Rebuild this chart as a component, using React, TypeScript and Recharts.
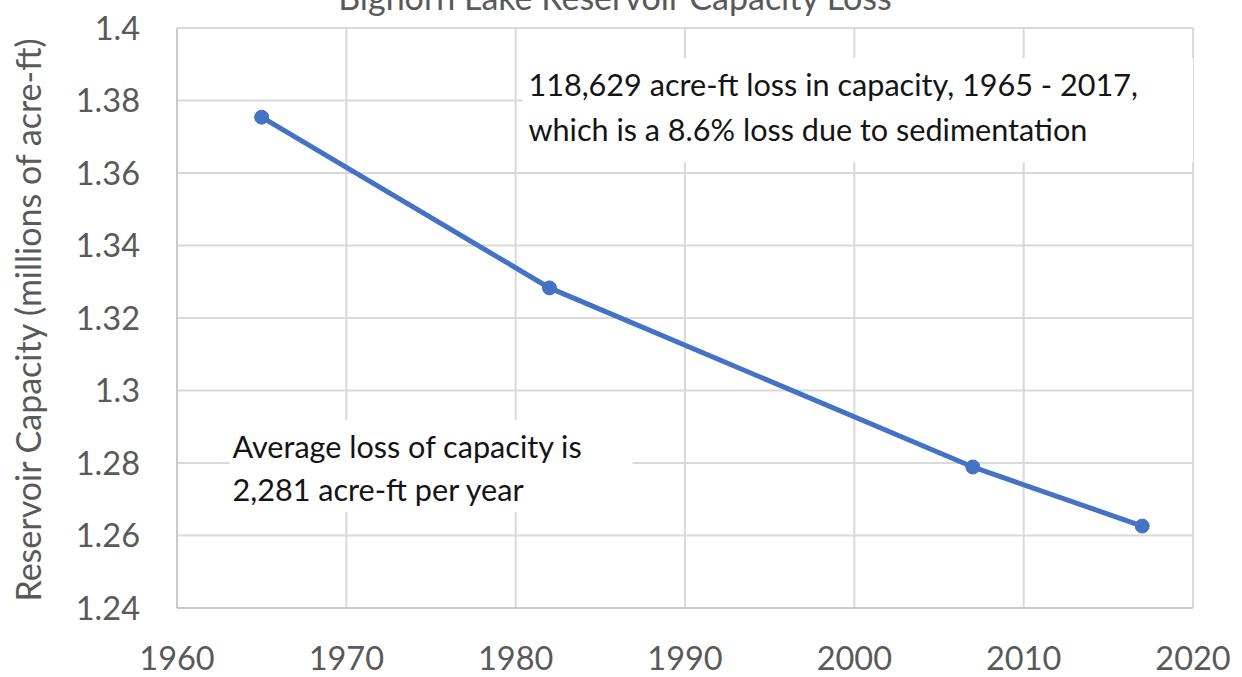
import React from "react";
import {
  LineChart,
  Line,
  XAxis,
  YAxis,
  CartesianGrid,
  ReferenceArea,
} from "recharts";

const years = [1965, 1982, 2007, 2017];
const capacity = [1.3754, 1.3283, 1.2789, 1.2626];

const xTicks = [1960, 1970, 1980, 1990, 2000, 2010, 2020];
const yTicks = [1.24, 1.26, 1.28, 1.3, 1.32, 1.34, 1.36, 1.38, 1.4];

const title = "Bighorn Lake Reservoir Capacity Loss";
const yLabel = "Reservoir Capacity (millions of acre-ft)";

const noteLoss = [
  "118,629 acre-ft loss in capacity, 1965 - 2017,",
  "which is a 8.6% loss due to sedimentation",
];
const noteAverage = ["Average loss of capacity is", "2,281 acre-ft per year"];

const data = years.map((year, i) => ({ year, capacity: capacity[i] }));

const FONT = "Lato, 'Open Sans', sans-serif";
const GRAY = "#595959";

// two-line text box drawn at the top-left corner of a reference area
const noteContent = (lines: string[], padX: number, firstLine: number, lineGap: number) =>
  (props: any) => {
    const vb = props.viewBox || {};
    return (
      <text
        x={vb.x + padX}
        y={vb.y + firstLine}
        fill="#141414"
        fontSize={30.6}
        fontFamily={FONT}
      >
        {lines.map((l, i) => (
          <tspan key={i} x={vb.x + padX} dy={i === 0 ? 0 : lineGap}>
            {l}
          </tspan>
        ))}
      </text>
    );
  };

const YTitle = (props: any) => {
  const vb = props.viewBox || {};
  const cx = vb.x + 27;
  const cy = vb.y + vb.height / 2 + 2;
  return (
    <text
      x={cx}
      y={cy}
      transform={`rotate(-90, ${cx}, ${cy})`}
      textAnchor="middle"
      dominantBaseline="central"
      fill={GRAY}
      fontSize={34}
      fontFamily={FONT}
    >
      {yLabel}
    </text>
  );
};

export default function App() {
  return (
    <div
      style={{
        position: "absolute",
        left: 0,
        top: 0,
        width: 1242,
        height: 677,
        background: "#fff",
      }}
    >
      <LineChart
        width={1242}
        height={677}
        data={data}
        margin={{ top: 28, right: 49, left: 0, bottom: 0 }}
      >
        {/* title sits mostly above the frame, as in the cropped original */}
        <text
          x={615}
          y={10}
          textAnchor="middle"
          fill={GRAY}
          fontSize={34}
          fontFamily={FONT}
        >
          {title}
        </text>
        <CartesianGrid stroke="#d9d9d9" strokeWidth={2} />
        <XAxis
          dataKey="year"
          type="number"
          domain={[1960, 2020]}
          ticks={xTicks}
          height={69}
          tickSize={0}
          tickMargin={39}
          axisLine={{ stroke: "#c9c9c9", strokeWidth: 2 }}
          tick={{ fill: GRAY, fontSize: 32.5, fontFamily: FONT }}
        />
        <YAxis
          type="number"
          domain={[1.24, 1.4]}
          ticks={yTicks}
          width={177}
          tickSize={0}
          tickMargin={37}
          axisLine={{ stroke: "#c9c9c9", strokeWidth: 2 }}
          tick={{ fill: GRAY, fontSize: 32.5, fontFamily: FONT }}
          tickFormatter={(v: number) => String(Number(v.toFixed(2)))}
          label={<YTitle />}
        />
        <ReferenceArea
          x1={1980.4}
          x2={2020}
          y1={1.363}
          y2={1.3917}
          fill="#ffffff"
          fillOpacity={1}
          stroke="none"
          label={noteContent(noteLoss, 6, 38, 45)}
        />
        <ReferenceArea
          x1={1963.1}
          x2={1986.9}
          y1={1.2665}
          y2={1.2919}
          fill="#ffffff"
          fillOpacity={1}
          stroke="none"
          label={noteContent(noteAverage, 3, 38, 43)}
        />
        <Line
          dataKey="capacity"
          stroke="#4472c4"
          strokeWidth={5}
          dot={{ r: 7, fill: "#4472c4", stroke: "#4472c4", strokeWidth: 1 }}
          isAnimationActive={false}
        />
      </LineChart>
    </div>
  );
}
